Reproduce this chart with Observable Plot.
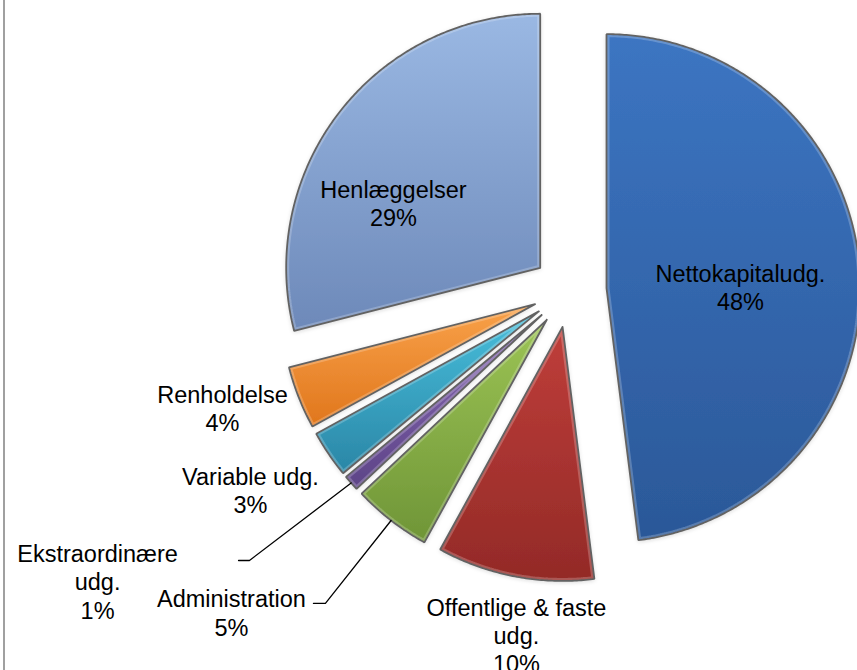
<!DOCTYPE html>
<html><head><meta charset="utf-8">
<script src="https://cdn.jsdelivr.net/npm/d3@7"></script>
<script src="https://cdn.jsdelivr.net/npm/@observablehq/plot@0.6"></script>
<style>
body{margin:0;background:#fff;}
#wrap{position:relative;width:857px;height:670px;overflow:hidden;background:#fff;}
#wrap .border{position:absolute;left:3px;top:0;width:2px;height:670px;background:#a0a0a0;}
#wrap svg{position:absolute;left:0;top:0;}
</style></head><body><div id="wrap"><div class="border"></div></div>
<script>
// ---- data ----
const categories = ["Nettokapitaludg.", "Offentlige & faste udg.", "Administration", "Ekstraordinære udg.", "Variable udg.", "Renholdelse", "Henlæggelser"];
const shares = [48, 10, 5, 1, 3, 4, 29];
const labelNames = ["Nettokapitaludg.", "Offentlige & faste\nudg.", "Administration", "Ekstraordinære\nudg.", "Variable udg.", "Renholdelse", "Henlæggelser"];
const percentLabels = ["48%", "10%", "5%", "1%", "3%", "4%", "29%"];

// ---- styles / layout (separate from data) ----
const colorTop = ["#3c75c2", "#bf3e3a", "#9cc455", "#8a6bb6", "#48bfdc", "#f9a24a", "#9ab8e3"];
const colorBottom = ["#2b5898", "#932a27", "#6f9537", "#5d4487", "#2a86a6", "#e0761c", "#6d89b9"];
const explode = 0.146;            // in radius units
const labelOffset = [[0.673, 0.014], [-0.209, -1.356], [-1.331, -1.268], [-1.858, -1.144], [-1.256, -0.785], [-1.366, -0.463], [-0.693, 0.344]];
const leaderStart = {2: [[-1.008, -1.232], [-0.961, -1.232]], 3: [[-1.303, -1.063], [-1.260, -1.063]]};

const W = 857, H = 670, R = 254, CX = 569, CY = 290;

const total = d3.sum(shares);
let acc = 0;
const slices = shares.map((v, i) => {
  const a0 = acc / total * 2 * Math.PI;
  acc += v;
  const a1 = acc / total * 2 * Math.PI;
  const mid = (a0 + a1) / 2;
  const ox = explode * Math.sin(mid), oy = explode * Math.cos(mid);
  return {i, name: categories[i], a0, a1, mid, ox, oy};
});

const pts = [];
for (const s of slices) {
  const fill = `url(#g${s.i})`;
  pts.push({k: s.name, x: s.ox, y: s.oy, fill});
  const n = Math.max(4, Math.ceil((s.a1 - s.a0) / (Math.PI / 360)));
  for (let j = 0; j <= n; j++) {
    const a = s.a0 + (s.a1 - s.a0) * j / n;
    pts.push({k: s.name, x: s.ox + Math.sin(a), y: s.oy + Math.cos(a), fill});
  }
  pts.push({k: s.name, x: s.ox, y: s.oy, fill});
}

const labels = slices.map(s => ({x: labelOffset[s.i][0], y: labelOffset[s.i][1], text: labelNames[s.i] + "\n" + percentLabels[s.i]}));

const leaders = [];
for (const key of Object.keys(leaderStart)) {
  const s = slices[+key];
  for (const p of leaderStart[key]) leaders.push({k: key, x: p[0], y: p[1]});
  leaders.push({k: key, x: s.ox + Math.sin(s.mid), y: s.oy + Math.cos(s.mid)});
}

const svg = Plot.plot({
  width: W, height: H,
  marginLeft: 0, marginRight: 0, marginTop: 0, marginBottom: 0,
  x: {domain: [-CX / R, (W - CX) / R], range: [0, W], axis: null},
  y: {domain: [-(H - CY) / R, CY / R], range: [H, 0], axis: null},
  color: {type: "identity"},
  style: {background: "transparent", overflow: "visible"},
  marks: [
    Plot.line(pts, {x: "x", y: "y", z: "k", fill: "fill", stroke: "none", curve: "linear", className: "slices"}),
    Plot.line(pts, {x: "x", y: "y", z: "k", fill: "none", stroke: "#ffffff", strokeOpacity: 0.22, strokeWidth: 6, strokeLinejoin: "miter", curve: "linear"}),
    Plot.line(pts, {x: "x", y: "y", z: "k", fill: "none", stroke: "#626262", strokeWidth: 1.8, strokeLinejoin: "miter", curve: "linear"}),
    Plot.line(leaders, {x: "x", y: "y", z: "k", stroke: "#000", strokeWidth: 1.3, curve: "linear"}),
    Plot.text(labels, {x: "x", y: "y", text: "text", fontSize: 23.5, lineHeight: 1.21, fill: "#000", fontFamily: "'Liberation Sans', Arial, sans-serif", textAnchor: "middle"})
  ]
});

const defs = d3.select(svg).insert("defs", ":first-child");
slices.forEach(s => {
  const g = defs.append("linearGradient").attr("id", `g${s.i}`).attr("x1", 0).attr("y1", 0).attr("x2", 0).attr("y2", 1);
  g.append("stop").attr("offset", "0%").attr("stop-color", colorTop[s.i]);
  g.append("stop").attr("offset", "100%").attr("stop-color", colorBottom[s.i]);
});
const f = defs.append("filter").attr("id", "sh").attr("x", "-10%").attr("y", "-10%").attr("width", "120%").attr("height", "120%");
f.append("feDropShadow").attr("dx", 0).attr("dy", 1).attr("stdDeviation", 2).attr("flood-color", "#000").attr("flood-opacity", 0.25);
d3.select(svg).select(".slices").attr("filter", "url(#sh)");

document.getElementById("wrap").appendChild(svg);
</script>
</body></html>
